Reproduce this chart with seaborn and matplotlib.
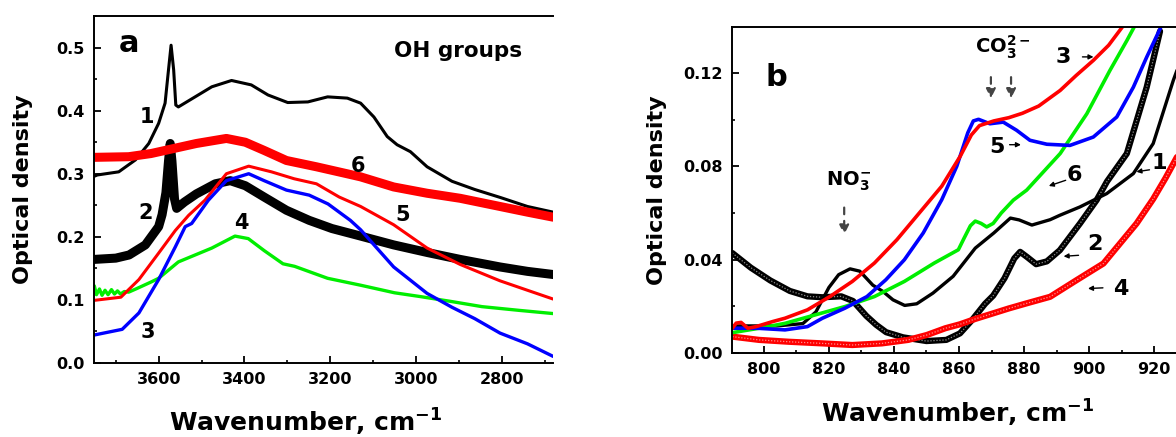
import numpy as np
import pandas as pd
import matplotlib
matplotlib.use("Agg")
import matplotlib.pyplot as plt
from matplotlib.ticker import MultipleLocator, FormatStrFormatter
import seaborn as sns

# ---- panel a : OH region (wavenumber, optical density) ----
a_wn1 = [3750, 3743, 3693, 3654, 3623, 3600, 3585, 3577, 3571, 3565, 3560, 3554, 3515, 3476, 3430,
         3384, 3345, 3299, 3252, 3206, 3160, 3129, 3098, 3067, 3044, 3013, 2974, 2916, 2863, 2802, 2740, 2680]
a_od1 = [0.296, 0.298, 0.303, 0.322, 0.348, 0.38, 0.412, 0.465, 0.504, 0.465, 0.409, 0.406, 0.422, 0.438, 0.448,
         0.441, 0.425, 0.413, 0.414, 0.422, 0.42, 0.412, 0.39, 0.359, 0.346, 0.335, 0.311, 0.288, 0.275, 0.262, 0.248, 0.239]

a_wn2 = [3750, 3700, 3669, 3631, 3600, 3592, 3583, 3577, 3573, 3569, 3563, 3558, 3540, 3512, 3468, 3433, 3398,
         3354, 3302, 3249, 3196, 3129, 3052, 2974, 2897, 2804, 2740, 2680]
a_od2 = [0.164, 0.166, 0.171, 0.187, 0.216, 0.235, 0.27, 0.32, 0.348, 0.32, 0.26, 0.245, 0.255, 0.268, 0.284, 0.289, 0.281,
         0.263, 0.242, 0.226, 0.213, 0.201, 0.187, 0.175, 0.164, 0.152, 0.145, 0.140]

a_wn3 = [3750, 3685, 3646, 3600, 3561, 3538, 3523, 3484, 3442, 3390, 3354, 3302, 3249, 3205, 3153, 3129,
         3052, 2974, 2916, 2863, 2804, 2740, 2680]
a_od3 = [0.044, 0.053, 0.079, 0.132, 0.184, 0.216, 0.221, 0.258, 0.289, 0.300, 0.289, 0.274, 0.266, 0.252, 0.226, 0.211,
         0.152, 0.110, 0.088, 0.070, 0.047, 0.030, 0.010]

a_wn4 = [3750, 3745, 3738, 3732, 3725, 3718, 3710, 3703, 3696, 3689, 3680, 3670, 3650, 3618, 3600, 3554, 3476,
         3422, 3391, 3354, 3310, 3283, 3206, 3129, 3050, 2990, 2916, 2846, 2758, 2680]
a_od4 = [0.122, 0.108, 0.117, 0.107, 0.115, 0.108, 0.116, 0.109, 0.114, 0.109, 0.113, 0.112, 0.118, 0.128, 0.134, 0.160, 0.182,
         0.201, 0.197, 0.178, 0.157, 0.153, 0.134, 0.123, 0.111, 0.105, 0.097, 0.089, 0.083, 0.078]

a_wn5 = [3750, 3688, 3646, 3600, 3561, 3530, 3492, 3442, 3390, 3337, 3284, 3232, 3179, 3129, 3052, 2974, 2897, 2804, 2740, 2680]
a_od5 = [0.099, 0.104, 0.132, 0.174, 0.21, 0.234, 0.258, 0.30, 0.312, 0.303, 0.292, 0.284, 0.263, 0.248, 0.219, 0.182, 0.156, 0.13, 0.115, 0.101]

a_wn6 = [3750, 3670, 3618, 3565, 3512, 3442, 3398, 3354, 3302, 3232, 3161, 3129, 3052, 2974, 2897, 2804, 2740, 2680]
a_od6 = [0.326, 0.327, 0.332, 0.340, 0.348, 0.356, 0.350, 0.337, 0.321, 0.311, 0.300, 0.295, 0.279, 0.269, 0.261, 0.248, 0.239, 0.231]

# ---- panel b : 790-930 cm-1 region ----
b_wn1 = [790.3, 796, 804, 812, 816, 820, 823, 826.5, 829.5, 833.5, 836.6, 839.7, 843.3, 847, 852, 858.2, 865, 870.7,
         875.8, 878.5, 882.4, 888, 891, 897.2, 905.4, 913.6, 919.7, 925.9, 928]
b_od1 = [0.0115, 0.0115, 0.0115, 0.0125, 0.0175, 0.028, 0.0335, 0.036, 0.035, 0.029, 0.0263, 0.0227, 0.0203, 0.021, 0.0256,
         0.0328, 0.0449, 0.0514, 0.0578, 0.057, 0.0548, 0.0571, 0.059, 0.0626, 0.0683, 0.0769, 0.0898, 0.117, 0.125]

b_wn2 = [790.3, 796, 802, 808, 813.4, 818, 823.8, 827.4, 831.5, 834.5, 837.6, 842.8, 850, 856.1, 860.3, 864, 868, 870.5,
         874, 877, 878.8, 881, 883.7, 887, 891, 897.2, 902.3, 905.5, 911.6, 917.7, 921.8]
b_od2 = [0.0428, 0.0365, 0.031, 0.0265, 0.0242, 0.0238, 0.0242, 0.0222, 0.0158, 0.012, 0.0088, 0.0066, 0.005, 0.0055, 0.0083,
         0.014, 0.021, 0.0245, 0.032, 0.0405, 0.0433, 0.041, 0.038, 0.0392, 0.044, 0.0555, 0.0655, 0.0735, 0.0855, 0.114, 0.138]

b_wn3 = [790.3, 791.5, 793, 795.1, 797.6, 802.8, 806.5, 813.4, 820.3, 827.2, 834, 840.9, 847.8, 854.7, 860.4, 863.8, 866.3,
         870.7, 875.3, 879.5, 884.5, 891.1, 896, 901.3, 906, 910.3, 912]
b_od3 = [0.0105, 0.0127, 0.013, 0.0105, 0.0112, 0.0134, 0.0148, 0.0184, 0.0241, 0.0306, 0.0385, 0.0485, 0.06, 0.0715, 0.0844,
         0.0935, 0.0975, 0.0995, 0.1009, 0.1028, 0.1059, 0.1126, 0.119, 0.1255, 0.132, 0.140, 0.143]

b_wn4 = [790.3, 798.5, 807.7, 818, 827.2, 836.3, 844.4, 850.1, 855.8, 860.3, 865, 870.5, 875.3, 880.8, 888, 896.2, 904.4,
         909.5, 914.6, 919.7, 923.5, 927]
b_od4 = [0.0069, 0.0055, 0.0047, 0.004, 0.0033, 0.004, 0.0055, 0.0076, 0.0105, 0.0122, 0.0145, 0.0169, 0.019, 0.0212, 0.024,
         0.0312, 0.0383, 0.0469, 0.0555, 0.066, 0.075, 0.084]

b_wn5 = [790.3, 798, 806.5, 813.4, 818, 824.9, 831.7, 837.5, 843.2, 849, 854.7, 859.3, 862.7, 864.4, 866, 869.5, 873.6,
         877.7, 881.8, 887, 894.1, 901.3, 908.5, 913.6, 917.7, 921.8, 923]
b_od5 = [0.0105, 0.0105, 0.0098, 0.0112, 0.0148, 0.0191, 0.0241, 0.0313, 0.0399, 0.0514, 0.0657, 0.080, 0.0944, 0.0995, 0.1002,
         0.0983, 0.099, 0.0955, 0.0912, 0.0895, 0.089, 0.0926, 0.1012, 0.114, 0.1269, 0.139, 0.143]

b_wn6 = [790.3, 798.5, 806.5, 815.7, 824.9, 834, 843.2, 852.4, 859.8, 861.5, 863.5, 865, 866.8, 868.5, 870.5, 873, 876.7,
         880.8, 891.1, 899.3, 906.4, 911.6, 914.3]
b_od6 = [0.0086, 0.0105, 0.0126, 0.0162, 0.0198, 0.0241, 0.0306, 0.0385, 0.0442, 0.049, 0.0545, 0.0565, 0.0555, 0.054, 0.0555,
         0.06, 0.0655, 0.0698, 0.0855, 0.1026, 0.1212, 0.134, 0.141]

sns.set_style("ticks")
plt.rcParams['font.family'] = ['DejaVu Sans']
plt.rcParams['font.weight'] = 'bold'
plt.rcParams['axes.labelweight'] = 'bold'
plt.rcParams['mathtext.default'] = 'bf'
plt.rcParams['lines.solid_joinstyle'] = 'round'
plt.rcParams['lines.solid_capstyle'] = 'round'
for key in ['text.color', 'axes.labelcolor', 'xtick.color', 'ytick.color', 'axes.edgecolor']:
    plt.rcParams[key] = 'black'

fig = plt.figure(figsize=(11.76, 4.37), dpi=100)
axa = fig.add_axes([0.0802, 0.170, 0.3902, 0.7943])
axb = fig.add_axes([0.6227, 0.1929, 0.3864, 0.7446])

GREEN = '#00ee00'

def curve(ax, x, y, color, lw, ring=False):
    sns.lineplot(x=x, y=y, ax=ax, color=color, linewidth=lw, sort=False, estimator=None)
    if ring:
        # open-circle look of the densely sampled spectra
        sns.lineplot(x=x, y=y, ax=ax, color='white', linewidth=0.9, sort=False, estimator=None,
                     linestyle=(0, (1.0, 1.4)), alpha=0.55)

# panel a
curve(axa, a_wn1, a_od1, 'black', 2.2)
curve(axa, a_wn2, a_od2, 'black', 6.5)
curve(axa, a_wn4, a_od4, GREEN, 2.4)
curve(axa, a_wn5, a_od5, 'red', 2.2)
curve(axa, a_wn3, a_od3, 'blue', 2.4)
curve(axa, a_wn6, a_od6, 'red', 6.5)

axa.set_xlim(3750, 2680)
axa.set_ylim(0, 0.551)
axa.xaxis.set_major_locator(MultipleLocator(200))
axa.xaxis.set_minor_locator(MultipleLocator(100))
axa.yaxis.set_major_locator(MultipleLocator(0.1))
axa.yaxis.set_minor_locator(MultipleLocator(0.05))
axa.yaxis.set_major_formatter(FormatStrFormatter('%.1f'))

nums_a = [('1', 3627, 0.39), ('2', 3631, 0.237), ('3', 3625, 0.048), ('4', 3407, 0.221),
          ('5', 3032, 0.234), ('6', 3135, 0.312)]
for s, x, y in nums_a:
    axa.text(x, y, s, fontsize=15, fontweight='bold', ha='center', va='center')
axa.text(3669, 0.507, 'a', fontsize=22, fontweight='bold', ha='center', va='center')
axa.text(3052, 0.486, 'OH groups', fontsize=15.5, fontweight='bold', ha='left', va='baseline')

# panel b
curve(axb, b_wn2, b_od2, 'black', 4.5, ring=True)
curve(axb, b_wn4, b_od4, 'red', 4.5, ring=True)
curve(axb, b_wn1, b_od1, 'black', 2.4)
curve(axb, b_wn6, b_od6, GREEN, 2.6)
curve(axb, b_wn5, b_od5, 'blue', 2.6)
curve(axb, b_wn3, b_od3, 'red', 2.6)

axb.set_xlim(790.3, 930)
axb.set_ylim(0, 0.1397)
axb.xaxis.set_major_locator(MultipleLocator(20))
axb.xaxis.set_minor_locator(MultipleLocator(10))
axb.yaxis.set_major_locator(MultipleLocator(0.04))
axb.yaxis.set_minor_locator(MultipleLocator(0.02))
axb.yaxis.set_major_formatter(FormatStrFormatter('%.2f'))

axb.text(804, 0.118, 'b', fontsize=22, fontweight='bold', ha='center', va='center')
axb.text(826, 0.0736, r'NO$_{3}^{-}$', fontsize=14, fontweight='bold', ha='center', va='center')
axb.text(873.5, 0.131, r'CO$_{3}^{2-}$', fontsize=14, fontweight='bold', ha='center', va='center')

dash_arrow = dict(arrowstyle='-|>', color='#444444', lw=1.6, linestyle=(0, (3, 3)), mutation_scale=14)
axb.annotate('', xy=(824.7, 0.0495), xytext=(824.7, 0.0635), arrowprops=dash_arrow)
axb.annotate('', xy=(869.8, 0.108), xytext=(869.8, 0.1195), arrowprops=dash_arrow)
axb.annotate('', xy=(876.0, 0.108), xytext=(876.0, 0.1195), arrowprops=dash_arrow)

nums_b = [('3', 892.2, 0.127, 897.1, 902.2, 0.127, 0.127),
          ('5', 871.8, 0.0885, 874.7, 879.9, 0.0893, 0.0893),
          ('6', 895.4, 0.0762, 893.6, 886.8, 0.0744, 0.0712),
          ('1', 921.5, 0.0813, 919.4, 913.7, 0.0787, 0.0775),
          ('2', 901.9, 0.0466, 897.6, 891.3, 0.0419, 0.0413),
          ('4', 909.6, 0.0272, 905.1, 898.8, 0.0279, 0.0275)]
for s, x, y, x0, x1, y0, y1 in nums_b:
    axb.text(x, y, s, fontsize=16, fontweight='bold', ha='center', va='center')
    axb.annotate('', xy=(x1, y1), xytext=(x0, y0),
                 arrowprops=dict(arrowstyle='-|>', color='black', lw=1.0, mutation_scale=7))

for ax in (axa, axb):
    ax.set_xlabel(r'Wavenumber, cm$^{-1}$', fontsize=18, fontweight='bold')
    ax.set_ylabel('Optical density', fontsize=16, fontweight='bold')
    ax.tick_params(which='major', direction='in', length=5, width=1.3, labelsize=11.5, pad=7)
    ax.tick_params(which='minor', direction='in', length=2.5, width=1.2)
    for lab in ax.get_xticklabels() + ax.get_yticklabels():
        lab.set_fontweight('bold')
    for sp in ax.spines.values():
        sp.set_linewidth(1.4)
    ax.spines['right'].set_visible(False)
    ax.set_facecolor('white')

axa.xaxis.set_label_coords(0.461, -0.127)
axa.yaxis.set_label_coords(-0.134, 0.5)
axb.xaxis.set_label_coords(0.4956, -0.140)
axb.yaxis.set_label_coords(-0.144, 0.5)
axa.xaxis.label.set_va('top')
axb.xaxis.label.set_va('top')

fig.savefig('out.png', dpi=100, facecolor='white')
